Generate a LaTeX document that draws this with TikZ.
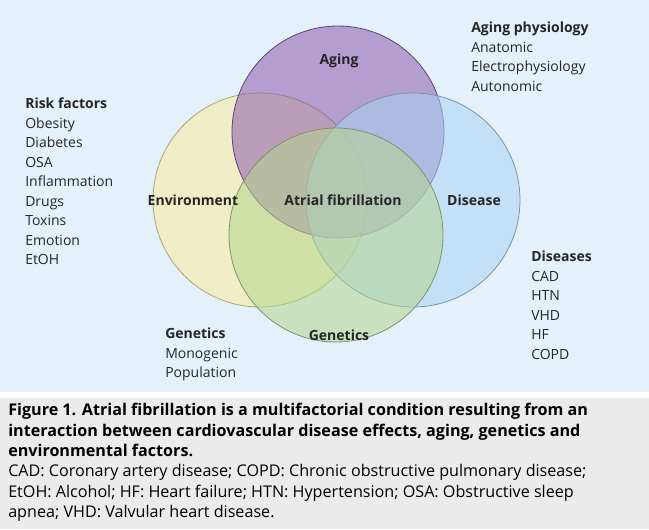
\documentclass[tikz,border=0pt]{standalone}
\usepackage{fontspec}
\setmainfont{Open Sans}
\usetikzlibrary{positioning}
\definecolor{bgblue}{HTML}{E4F1FB}
\definecolor{capgrey}{HTML}{EBEBEB}
\definecolor{agingc}{HTML}{8E5BAE}
\definecolor{envc}{HTML}{F9EC9E}
\definecolor{disc}{HTML}{A9D3F3}
\definecolor{genc}{HTML}{B5D58E}
\tikzset{
  venn/.style={draw=#1!70!black, fill=#1, fill opacity=0.55, draw opacity=1, line width=0.6pt},
  label/.style={font=\fontsize{10.5}{13}\selectfont\bfseries, text=black!85},
  listbox/.style={anchor=north west, align=left, inner sep=0pt, text=black!85,
    font=\fontsize{10.5}{14.6}\selectfont},
  capbox/.style={anchor=north west, align=left, inner sep=0pt,
    font=\fontsize{12.1}{15.3}\selectfont}
}
\begin{document}
\begin{tikzpicture}[x=0.75pt,y=-0.75pt]
  \useasboundingbox (0,0) rectangle (649,529);
  \fill[white] (0,0) rectangle (649,529);
  \fill[bgblue] (0,0) rectangle (649,392);
  \fill[capgrey] (0,398) rectangle (649,529);
  % circles
  \draw[venn=envc] (260,200) circle[radius=107];
  \draw[venn=agingc] (338,132) circle[radius=106];
  \draw[venn=disc] (413,200) circle[radius=107];
  \draw[venn=genc] (336,235) circle[radius=107];
  % circle labels
  \node[label] (aging) at (339,61) {Aging};
  \node[label] (env) at (193,200) {Environment};
  \node[label] (af) at (343,200) {Atrial fibrillation};
  \node[label] (dis) at (474,200) {Disease};
  \node[label] (gen) at (339,335) {Genetics};
  % lists
  \node[listbox] (risk) at (25,98) {\textbf{Risk factors}\\Obesity\\Diabetes\\OSA\\Inflammation\\Drugs\\Toxins\\Emotion\\EtOH};
  \node[listbox] (agephys) at (471,22) {\textbf{Aging physiology}\\Anatomic\\Electrophysiology\\Autonomic};
  \node[listbox] (diseases) at (531,251) {\textbf{Diseases}\\CAD\\HTN\\VHD\\HF\\COPD};
  \node[listbox] (genlist) at (165,328) {\textbf{Genetics}\\Monogenic\\Population};
  % caption
  \node[capbox] (cap) at (8,403) {\textbf{Figure 1. Atrial fibrillation is a multifactorial condition resulting from an}\\
  \textbf{interaction between cardiovascular disease effects, aging, genetics and}\\
  \textbf{environmental factors.}\\
  CAD: Coronary artery disease; COPD: Chronic obstructive pulmonary disease;\\
  EtOH: Alcohol; HF: Heart failure; HTN: Hypertension; OSA: Obstructive sleep\\
  apnea; VHD: Valvular heart disease.};
\end{tikzpicture}
\end{document}
